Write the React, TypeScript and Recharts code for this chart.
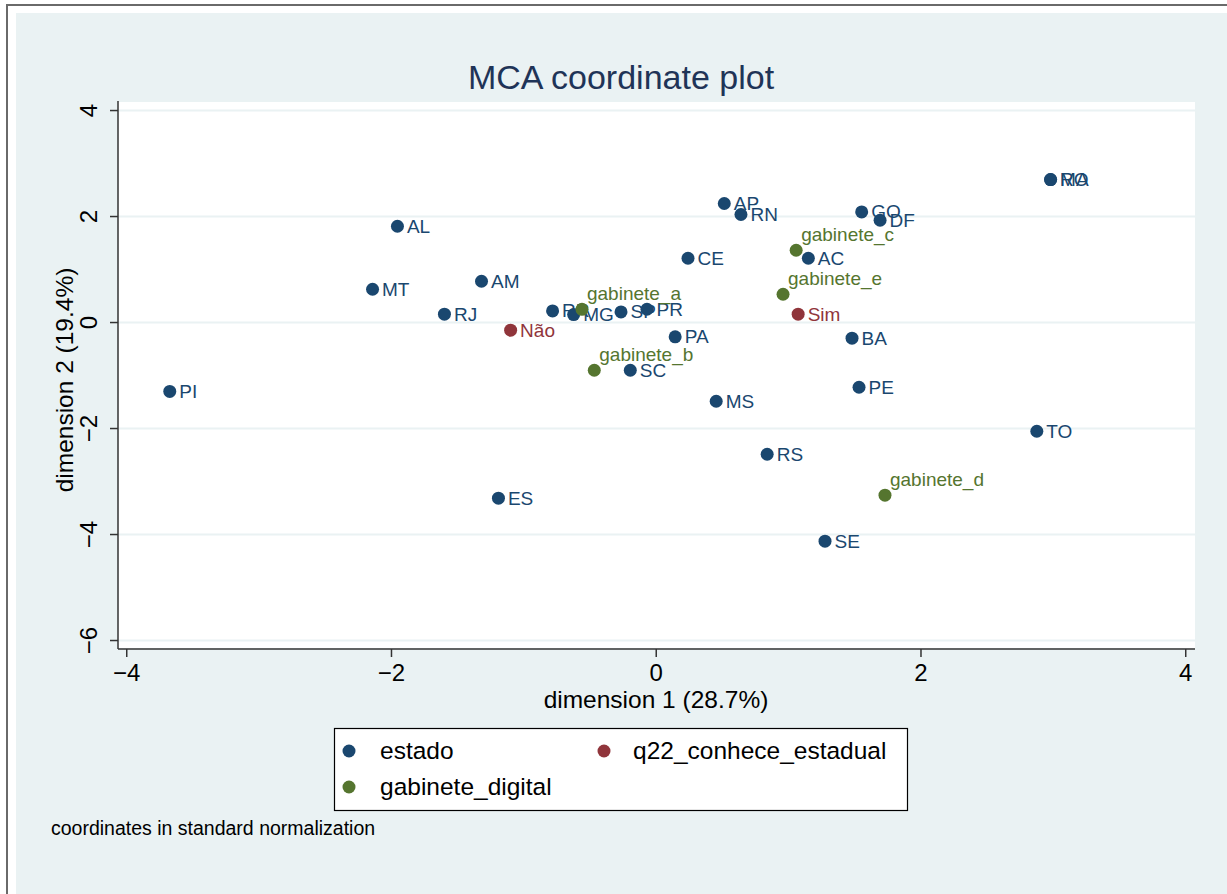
import React from 'react';
import { ScatterChart, Scatter, XAxis, YAxis, CartesianGrid } from 'recharts';

// ---- data ----
const estadoNames = ['PI', 'AL', 'MT', 'AM', 'RJ', 'RR', 'MG', 'SP', 'PR', 'CE', 'AP', 'RN', 'GO', 'DF', 'AC', 'PA', 'SC', 'MS', 'BA', 'PE', 'TO', 'RS', 'ES', 'SE', 'RO', 'MA'];
const estadoDim1 = [-3.675, -1.955, -2.143, -1.32, -1.6, -0.783, -0.624, -0.266, -0.07, 0.24, 0.514, 0.64, 1.552, 1.691, 1.149, 0.143, -0.196, 0.453, 1.479, 1.532, 2.875, 0.838, -1.192, 1.275, 2.979, 2.979];
const estadoDim2 = [-1.3, 1.817, 0.628, 0.779, 0.157, 0.219, 0.151, 0.2, 0.251, 1.213, 2.246, 2.038, 2.087, 1.93, 1.213, -0.27, -0.9, -1.485, -0.296, -1.221, -2.051, -2.485, -3.315, -4.126, 2.698, 2.698];

const q22Names = ['Não', 'Sim'];
const q22Dim1 = [-1.1, 1.072];
const q22Dim2 = [-0.145, 0.157];

const gabNames = ['gabinete_a', 'gabinete_b', 'gabinete_c', 'gabinete_e', 'gabinete_d'];
const gabDim1 = [-0.561, -0.468, 1.057, 0.958, 1.728];
const gabDim2 = [0.25, -0.9, 1.364, 0.534, -3.258];

const xTicks = [-4, -2, 0, 2, 4];
const yTicks = [-6, -4, -2, 0, 2, 4];

const seriesNames = ['estado', 'q22_conhece_estadual', 'gabinete_digital'];

const build = (names: string[], xs: number[], ys: number[]) =>
  names.map((name, i) => ({ name, x: xs[i], y: ys[i] }));

const estadoData = build(estadoNames, estadoDim1, estadoDim2);
const q22Data = build(q22Names, q22Dim1, q22Dim2);
const gabData = build(gabNames, gabDim1, gabDim2);

const NAVY = '#1A476F';
const GREEN = '#55752F';
const RED = '#90353B';
const BG = '#EAF2F3';
const FONT = "'Liberation Sans', Arial, Helvetica, sans-serif";

const fmt = (v: number) => (v < 0 ? '\u2212' + Math.abs(v) : String(v));

const makeShape = (color: string, above: boolean) => (props: any) => {
  const { cx, cy, payload } = props;
  return (
    <g>
      <circle cx={cx} cy={cy} r={6.5} fill={color} />
      <text
        x={above ? cx + 5 : cx + 9.5}
        y={above ? cy - 9 : cy + 6.5}
        fontSize={19}
        fontFamily={FONT}
        fill={color}
      >
        {payload.name}
      </text>
    </g>
  );
};

const XTick = (props: any) => {
  const { x, y, payload } = props;
  return (
    <text x={x} y={y + 22} textAnchor="middle" fontSize={24} fontFamily={FONT} fill="#000">
      {fmt(payload.value)}
    </text>
  );
};

const YTick = (props: any) => {
  const { y, payload } = props;
  const bx = 97;
  return (
    <text x={bx} y={y} transform={`rotate(-90 ${bx} ${y})`} textAnchor="middle" fontSize={24} fontFamily={FONT} fill="#000">
      {fmt(payload.value)}
    </text>
  );
};

export default function App() {
  return (
    <div style={{ position: 'relative', width: 1227, height: 894, background: '#fff', overflow: 'hidden', fontFamily: FONT }}>
      <style>{`body{margin:0}`}</style>
      <div style={{ position: 'absolute', left: 6, top: 4, width: 1230, height: 900, borderTop: '2px solid #6a6a6a', borderLeft: '2px solid #6a6a6a' }} />
      <div style={{ position: 'absolute', left: 16, top: 13, right: 0, bottom: 0, background: BG }} />
      <div style={{ position: 'absolute', left: 0, top: 0 }}>
        <ScatterChart width={1227} height={894} margin={{ top: 101, right: 32, bottom: 205, left: 58 }}>
          <CartesianGrid horizontal vertical={false} stroke={BG} strokeWidth={2} fill="#fff" />
          <XAxis
            type="number"
            dataKey="x"
            domain={[-4.066, 4.07]}
            ticks={xTicks}
            allowDataOverflow
            height={40}
            tickSize={8}
            axisLine={{ stroke: '#333', strokeWidth: 1.5 }}
            tickLine={{ stroke: '#333', strokeWidth: 1.5 }}
            tick={<XTick />}
          />
          <YAxis
            type="number"
            dataKey="y"
            domain={[-6.16, 4.18]}
            ticks={yTicks}
            allowDataOverflow
            width={60}
            tickSize={8}
            axisLine={{ stroke: '#333', strokeWidth: 1.5 }}
            tickLine={{ stroke: '#333', strokeWidth: 1.5 }}
            tick={<YTick />}
          />
          <Scatter name={seriesNames[0]} data={estadoData} fill={NAVY} shape={makeShape(NAVY, false)} isAnimationActive={false} />
          <Scatter name={seriesNames[1]} data={q22Data} fill={RED} shape={makeShape(RED, false)} isAnimationActive={false} />
          <Scatter name={seriesNames[2]} data={gabData} fill={GREEN} shape={makeShape(GREEN, true)} isAnimationActive={false} />
        </ScatterChart>
      </div>
      <svg width={1227} height={894} style={{ position: 'absolute', left: 0, top: 0, pointerEvents: 'none' }}>
        <text x={621} y={89} textAnchor="middle" fontSize={34} fontFamily={FONT} fill="#1F3457">MCA coordinate plot</text>
        <text x={656} y={708} textAnchor="middle" fontSize={24.5} fontFamily={FONT} fill="#000">dimension 1 (28.7%)</text>
        <text x={73} y={380} transform="rotate(-90 73 380)" textAnchor="middle" fontSize={24.5} fontFamily={FONT} fill="#000">dimension 2 (19.4%)</text>
        <rect x={334.5} y={728.5} width={573} height={82} fill="#fff" stroke="#000" strokeWidth={1.2} />
        <circle cx={349} cy={751} r={6.5} fill={NAVY} />
        <text x={380} y={759} fontSize={24.5} fontFamily={FONT} fill="#000">{seriesNames[0]}</text>
        <circle cx={604} cy={751} r={6.5} fill={RED} />
        <text x={633} y={759} fontSize={24.5} fontFamily={FONT} fill="#000">{seriesNames[1]}</text>
        <circle cx={349} cy={787} r={6.5} fill={GREEN} />
        <text x={380} y={795} fontSize={24.5} fontFamily={FONT} fill="#000">{seriesNames[2]}</text>
        <text x={51} y={835} fontSize={19.5} fontFamily={FONT} fill="#000">coordinates in standard normalization</text>
      </svg>
    </div>
  );
}
